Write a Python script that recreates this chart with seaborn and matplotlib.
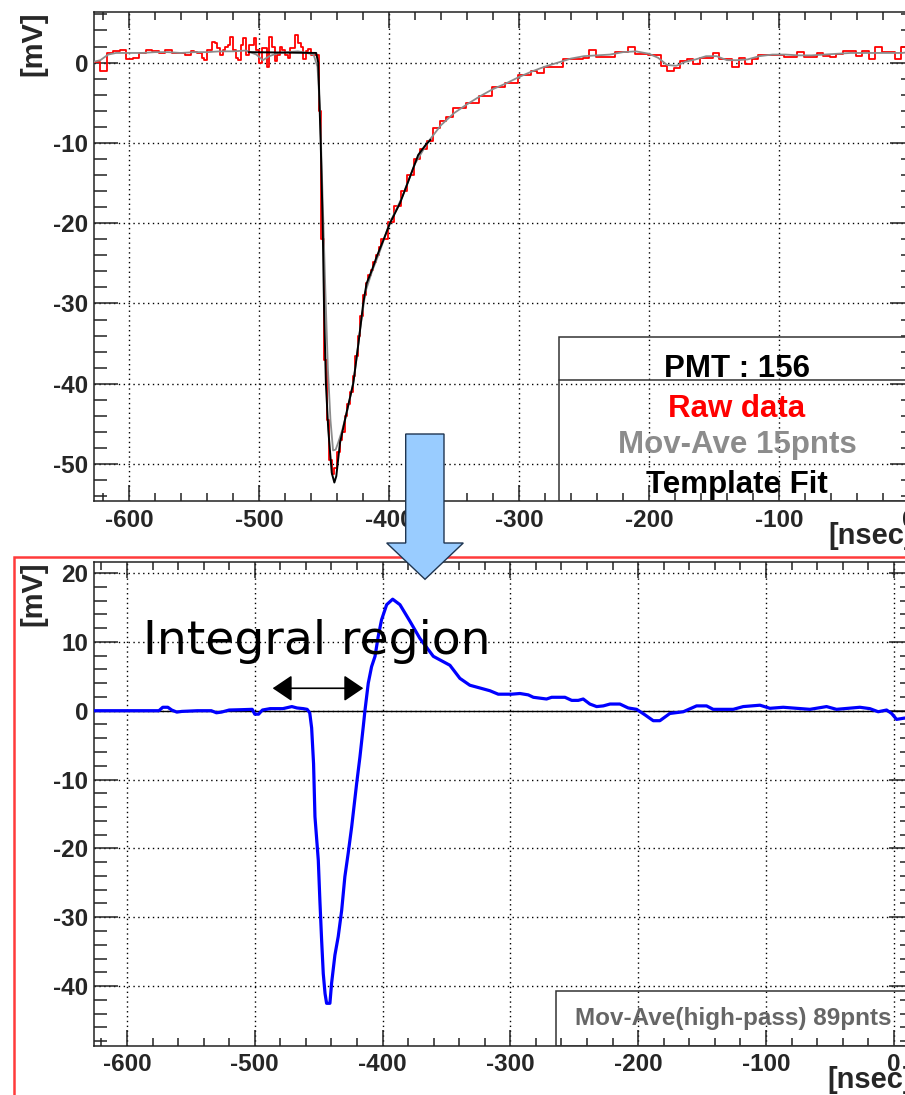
import numpy as np
import matplotlib
matplotlib.use("Agg")
import matplotlib.pyplot as plt
from matplotlib.patches import Rectangle, Polygon
from matplotlib.ticker import MultipleLocator
import seaborn as sns

# ---------------- waveform data ----------------
# raw ADC trace (step histogram), three sections with their own bin widths
raw_base_start, raw_base_step = -627, 5
raw_base_mv = [0.1, -1.1, 1.2, 1.4, 1.6, 0.5, 0.6, 1.2, 1.6, 1.4,
               1.2, 1.6, 1.2, 1.2, 1.0]
raw_fine_start, raw_fine_step = -552, 2
raw_fine_mv = [1.5, 1.3, 1.2, 1.2, 0.6, 0.35, 1.6, 1.6, 2.6, 2.4,
               1.8, 0.9, 1.6, 2.0, 2.2, 3.2, 1.6, 0.6, 0.35, 2.2,
               3.0, 1.0, 2.2, 2.2, 3.0, 1.6, -0.1, 1.8, 1.8, -0.5,
               3.2, 2.0, 0.2, 1.0, 2.0, 1.6, 0.9, 0.6, 1.8, 1.8,
               3.4, 2.4, 1.9, 0.5, 1.5, 1.7, 1.0, 1.0,
               1.0, -6.0, -22.0, -37.0, -44.5, -49.5, -51.2, -50.5, -48.5, -47.0,
               -46.0, -44.0, -42.5, -41.0, -39.0, -36.5, -34.0, -31.5, -29.0, -27.5,
               -26.5, -25.8, -24.8, -24.0, -23.0]
raw_tail_start, raw_tail_step = -406, 5
raw_tail_mv = [-22.0, -19.8, -17.8, -16.0, -14.0, -12.0, -10.8, -9.8, -8.2, -7.3,
               -6.8, -5.7, -5.7, -5.0, -5.0, -4.2, -4.2, -3.1, -3.1, -2.6,
               -2.6, -1.5, -1.5, -1.0, -1.3, -0.5, -0.5, -0.5, 0.5, 0.5,
               0.5, 0.6, 1.6, 0.7, 0.7, 0.7, 1.3, 1.3, 1.9, 1.1,
               1.1, 0.9, 0.9, -0.4, -1.0, -0.7, 0.2, 0.4, -0.2, 0.6,
               0.6, 1.2, 0.4, 0.4, -0.6, 0.6, -0.2, 0.4, 1.0, 1.0,
               1.0, 1.0, 0.7, 0.7, 1.3, 0.7, 0.7, 1.2, 0.8, 0.7,
               1.1, 1.5, 1.5, 0.8, 1.5, 0.5, 1.9, 1.3, 1.3, 0.5,
               1.9, 1.5]

# 15-point moving average
mavg_ns = [-627, -622, -616, -610, -600, -590, -580, -570, -560, -550,
           -540, -530, -520, -510, -502, -497, -492, -485, -478, -470,
           -463, -458, -455, -453, -451, -449, -447, -445, -443, -441,
           -439, -436, -432, -427, -422, -418, -413, -407, -400, -390,
           -380, -370, -360, -350, -340, -330, -320, -310, -300, -290,
           -280, -270, -260, -250, -240, -230, -220, -210, -200, -193,
           -186, -179, -172, -164, -156, -148, -140, -132, -124, -115,
           -105, -95, -85, -75, -65, -55, -45, -35, -25, -15, -5, 4]
mavg_mv = [0.1, 0.3, 1.0, 1.2, 1.2, 1.2, 1.3, 1.3, 1.2, 1.3,
           1.3, 1.4, 1.4, 1.5, 1.0, 0.3, 0.8, 1.2, 1.3, 1.4,
           1.2, 1.0, -0.5, -6.0, -17.0, -28.0, -38.0, -44.5, -48.3, -48.2,
           -47.3, -45.8, -43.3, -39.5, -33.0, -28.5, -26.0, -23.5, -20.2, -16.8,
           -12.6, -9.9, -7.8, -6.3, -5.2, -4.2, -3.3, -2.6, -1.8, -1.1,
           -0.5, 0.0, 0.5, 0.8, 0.9, 1.0, 1.3, 1.4, 1.1, 0.6,
           -0.3, -0.4, 0.1, 0.4, 0.8, 0.8, 0.3, 0.3, 0.4, 0.8,
           1.0, 1.0, 0.9, 0.9, 1.0, 1.1, 1.2, 1.2, 1.2, 1.2, 1.2, 1.4]

# template fit
fit_ns = [-508, -456, -454.4, -452.5, -451, -450, -448.5, -446.7, -444, -442,
          -440.5, -437.7, -432.5, -427.5, -423.5, -419.8, -417.2, -413, -409.5, -404,
          -399.2, -391.5, -384, -377.5, -372, -368]
fit_mv = [1.3, 1.2, 0.0, -10.0, -20.0, -30.0, -40.0, -45.7, -51.1, -52.3,
          -51.5, -47.4, -43.5, -40.0, -35.0, -30.0, -27.5, -25.8, -24.2, -22.0,
          -20.0, -17.5, -14.3, -11.5, -10.3, -9.6]

# high-pass moving average (89 points)
hp_ns = [-626, -575, -572, -568, -565, -561, -557, -545, -534, -530,
         -526, -520, -510, -502, -500, -497, -494, -488, -478, -471,
         -467, -462, -459, -457, -455.5, -454, -452.9, -450.3, -449, -447.7,
         -446.4, -445, -443.8, -441.2, -439.9, -437.3, -434.7, -432, -429.5, -426.9,
         -424.2, -420.3, -417.7, -415.1, -413.8, -411.2, -408.6, -405.9, -403.4, -400.8,
         -396.8, -392.1, -386.4, -378.6, -370.8, -360.3, -347.3, -339.5, -331.7, -323.8,
         -316, -309.5, -299, -292.5, -286, -282, -271.7, -267.7, -257.3, -252,
         -246.9, -243, -237.8, -232.5, -227.3, -222, -214.3, -207.8, -201.2, -194.7,
         -188.2, -183, -175.2, -164.7, -154.3, -146.5, -141.3, -125.6, -117.8, -104.7,
         -96.9, -86.5, -65.6, -52.6, -44.8, -26.5, -18.7, -12.2, -5.6, -1.7,
         2.2, 7.4, 15]
hp_mv = [0.0, 0.0, 0.5, 0.5, 0.1, -0.2, -0.1, 0.0, 0.0, -0.3,
         -0.2, 0.1, 0.15, 0.2, -0.5, -0.5, 0.1, 0.3, 0.3, 0.6,
         0.4, 0.3, 0.2, -0.3, -2.5, -7.7, -15.4, -21.7, -27.8, -33.3,
         -38.2, -41.1, -42.5, -42.5, -39.6, -35.5, -32.8, -29.0, -24.1, -20.7,
         -16.9, -10.6, -6.7, -2.3, 0.0, 4.0, 6.4, 7.9, 10.8, 13.2,
         15.4, 16.2, 15.4, 13.0, 10.5, 7.9, 6.6, 4.7, 3.7, 3.3,
         2.9, 2.4, 2.4, 2.5, 2.3, 1.95, 1.7, 1.95, 1.95, 1.5,
         1.5, 1.7, 0.97, 0.6, 0.7, 0.97, 0.97, 0.4, 0.2, -0.6,
         -1.45, -1.45, -0.4, -0.15, 0.7, 0.7, 0.2, 0.2, 0.6, 0.8,
         0.35, 0.5, 0.2, 0.6, 0.2, 0.5, 0.3, -0.15, 0.1, -0.4,
         -1.26, -1.1, -0.9]

integral_ns = [-486.0, -415.1]
integral_mv = 3.26

legend_top = ["PMT : 156", "Raw data", "Mov-Ave 15pnts", "Template Fit"]
legend_top_colors = ["black", "#ff0000", "#8c8c8c", "black"]
legend_bottom = "Mov-Ave(high-pass) 89pnts"

# ---------------- styling ----------------
sns.set_style("ticks")
plt.rcParams["font.family"] = ["Liberation Sans", "DejaVu Sans"]
plt.rcParams["axes.unicode_minus"] = False

W, H = 905, 1095
fig = plt.figure(figsize=(W / 100, H / 100), dpi=100)
fig.patch.set_facecolor("white")


def fig_box(left, top, right, bottom):
    return [left / W, 1 - bottom / H, (right - left) / W, (bottom - top) / H]


def root_style(ax, xlim, ylim, xpad):
    ax.set_xlim(*xlim)
    ax.set_ylim(*ylim)
    ax.xaxis.set_major_locator(MultipleLocator(100))
    ax.xaxis.set_minor_locator(MultipleLocator(20))
    ax.yaxis.set_major_locator(MultipleLocator(10))
    ax.yaxis.set_minor_locator(MultipleLocator(2))
    ax.tick_params(which="both", direction="in", top=True, right=True,
                   width=1.1, color="#222222", labelsize=17.5)
    ax.tick_params(axis="y", which="major", length=17.3, pad=4)
    ax.tick_params(axis="y", which="minor", length=9.4)
    ax.tick_params(axis="x", which="major", length=11.5, pad=xpad)
    ax.tick_params(axis="x", which="minor", length=5.8)
    for lab in ax.get_xticklabels() + ax.get_yticklabels():
        lab.set_fontweight("bold")
    ax.grid(True, which="major", color="black", linestyle=(0, (1, 2.5)), lw=1.0)
    ax.set_axisbelow(True)
    for sp in ax.spines.values():
        sp.set_linewidth(1.1)
        sp.set_color("#222222")
    ax.set_xlabel("")
    ax.set_ylabel("")


# ---------------- top panel ----------------
ax1 = fig.add_axes(fig_box(94, 12, 914, 501))

raw_ns = np.concatenate([
    raw_base_start + raw_base_step * np.arange(len(raw_base_mv)),
    raw_fine_start + raw_fine_step * np.arange(len(raw_fine_mv)),
    raw_tail_start + raw_tail_step * np.arange(len(raw_tail_mv) + 1),
])
raw_vals = raw_base_mv + raw_fine_mv + raw_tail_mv + [raw_tail_mv[-1]]

sns.lineplot(x=raw_ns, y=raw_vals, drawstyle="steps-post", estimator=None,
             sort=False, color="#ff0000", lw=1.3, ax=ax1, zorder=3)
sns.lineplot(x=mavg_ns, y=mavg_mv, estimator=None, sort=False,
             color="#8c8c8c", lw=1.3, ax=ax1, zorder=4)
sns.lineplot(x=fit_ns, y=fit_mv, estimator=None, sort=False,
             color="black", lw=1.4, ax=ax1, zorder=5)
root_style(ax1, (-626.9, 3.9), (-54.6, 6.3), xpad=6)

# legend box
ax1.add_patch(Rectangle((0.5675, 0.0), 0.5, 0.336, transform=ax1.transAxes,
                        fill=False, ec="#333333", lw=1.1, zorder=6))
ax1.plot([0.5675, 1.0], [0.2474, 0.2474], transform=ax1.transAxes,
         color="#333333", lw=1.1, zorder=6)
for label, color, yb in zip(legend_top, legend_top_colors,
                            [0.2542, 0.1724, 0.0975, 0.0157]):
    ax1.text(0.784, yb, label, transform=ax1.transAxes, ha="center",
             va="baseline", fontsize=22.5, fontweight="bold", color=color, zorder=7)

# ---------------- bottom panel ----------------
ax2 = fig.add_axes(fig_box(94, 562, 913, 1046))
ax2.axhline(0, color="black", lw=1.0, zorder=2)
sns.lineplot(x=hp_ns, y=hp_mv, estimator=None, sort=False,
             color="#0000ff", lw=2.3, ax=ax2, zorder=4)
root_style(ax2, (-625.8, 15.05), (-48.7, 21.6), xpad=5)

ax2.add_patch(Rectangle((0.5641, 0.0), 0.5, 0.1136, transform=ax2.transAxes,
                        fill=False, ec="#333333", lw=1.1, zorder=6))
ax2.text(0.780, 0.0434, legend_bottom, transform=ax2.transAxes, ha="center",
         va="baseline", fontsize=17.5, fontweight="bold", color="#666666", zorder=7)

ax2.annotate("", xy=(integral_ns[1], integral_mv), xytext=(integral_ns[0], integral_mv),
             arrowprops=dict(arrowstyle="<|-|>,head_length=0.4,head_width=0.27",
                             color="black", lw=1.2, mutation_scale=30,
                             shrinkA=0, shrinkB=0), zorder=8)

# ---------------- axis titles & annotations ----------------
for top_px in (12, 562):
    fig.text(33 / W, 1 - top_px / H, "[mV]", rotation=90, ha="center", va="top",
             fontsize=21, fontweight="bold")
fig.text(914 / W, 1 - 522 / H, "[nsec]", ha="right", va="top",
         fontsize=21, fontweight="bold")
fig.text(913 / W, 1 - 1066 / H, "[nsec]", ha="right", va="top",
         fontsize=21, fontweight="bold")

fig.text(143 / W, 1 - 654 / H, "Integral region", ha="left", va="baseline",
         fontsize=34, family="DejaVu Sans", color="black", zorder=12)

# red frame around the lower panel
fig.add_artist(Rectangle((13.8 / W, -0.02), 1.0, (1 - 556.7 / H) + 0.02,
                         transform=fig.transFigure, fill=False,
                         ec="#ff3b3b", lw=1.8, zorder=9))

# light-blue block arrow between the panels
arrow_px = [(405.7, 434), (444, 434), (444, 543), (463.3, 543),
            (425, 579.3), (386.7, 543), (405.7, 543)]
fig.add_artist(Polygon([(x / W, 1 - y / H) for x, y in arrow_px], closed=True,
                       transform=fig.transFigure, fc="#99ccff", ec="#1f3550",
                       lw=1.0, zorder=10))

fig.savefig("out.png", dpi=100, facecolor="white")
